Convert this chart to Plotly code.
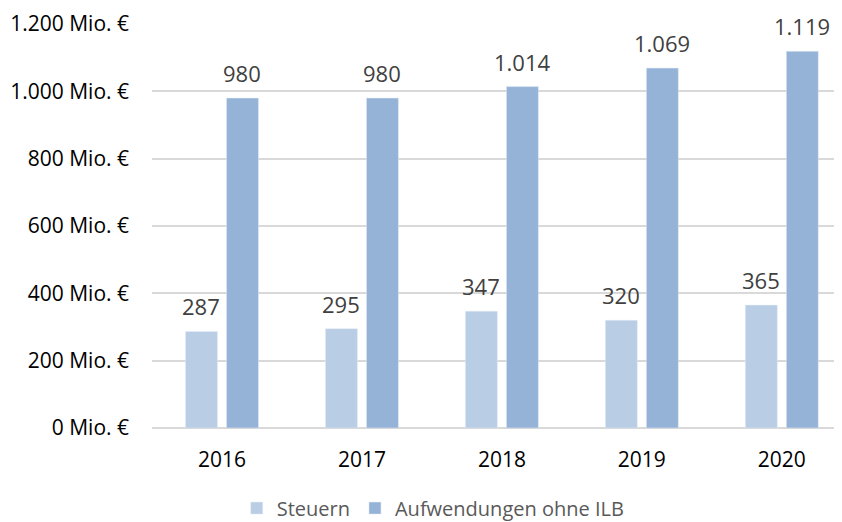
import plotly.graph_objects as go

years = ["2016", "2017", "2018", "2019", "2020"]
steuern = [287, 295, 347, 320, 365]
aufwendungen = [980, 980, 1014, 1069, 1119]
y_ticks = [0, 200, 400, 600, 800, 1000, 1200]

def de(v):
    return f"{v:,}".replace(",", ".")

fig = go.Figure()
fig.add_trace(go.Bar(x=years, y=steuern, name="Steuern", marker_color="#B9CDE5"))
fig.add_trace(go.Bar(x=years, y=aufwendungen, name="Aufwendungen ohne ILB", marker_color="#95B3D7"))

for i, vals in enumerate([steuern, aufwendungen]):
    for j, v in enumerate(vals):
        fig.add_annotation(x=j, y=v, text=de(v), showarrow=False, xshift=(-20.5 if i == 0 else 20.5),
                           yshift=25, font=dict(size=22, color="#404040"))

fig.update_layout(
    width=842, height=522,
    margin=dict(l=144, r=8, t=16, b=102, autoexpand=False),
    paper_bgcolor="white", plot_bgcolor="white",
    barmode="group", bargap=0.414, bargroupgap=0.22,
    separators=",.",
    font=dict(family="Open Sans, Noto Sans, sans-serif", size=21, color="#000000"),
    showlegend=True,
    legend=dict(orientation="h", xref="container", yref="container",
                x=0.505, xanchor="center", y=0.042, yanchor="middle",
                font=dict(size=20, color="#595959"), traceorder="normal",
                itemwidth=30, bgcolor="rgba(0,0,0,0)"),
    xaxis=dict(type="category", range=[-0.5, 4.43], showgrid=False, showline=False,
               ticks="", ticklabelstandoff=17, tickfont=dict(size=21, color="#000000")),
    yaxis=dict(range=[0, 1200], tickvals=y_ticks, ticktext=[de(t) + " Mio. €" for t in y_ticks],
               showgrid=True, gridcolor="#D9D9D9", gridwidth=1.5, zeroline=True,
               zerolinecolor="#D9D9D9", zerolinewidth=1.5, ticks="", ticklabelstandoff=22,
               ticklabeloverflow="allow", tickfont=dict(size=21, color="#000000")),
)
fig.write_html("out.html")
